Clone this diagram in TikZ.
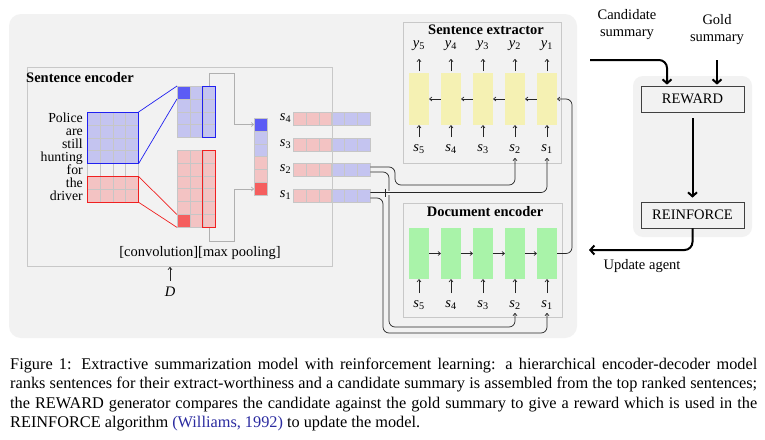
\documentclass[tikz,border=0pt]{standalone}
\usepackage{fontspec}
\setmainfont{Liberation Serif}
\usetikzlibrary{arrows.meta}
\definecolor{bgc}{HTML}{F2F2F2}
\definecolor{gridc}{HTML}{C6C6C6}
\definecolor{lblue}{HTML}{C4C4F0}
\definecolor{dblue}{HTML}{5C5CF5}
\definecolor{oblue}{HTML}{2020F0}
\definecolor{lred}{HTML}{F3C3C3}
\definecolor{dred}{HTML}{F55E5E}
\definecolor{ored}{HTML}{F02020}
\definecolor{yel}{HTML}{F5F1B3}
\definecolor{grn}{HTML}{A9F3A9}
\definecolor{citec}{HTML}{2B2BA0}
\definecolor{boxc}{HTML}{C8C8C8}
\definecolor{linec}{HTML}{262626}
\definecolor{arrgray}{HTML}{B0B0B0}
\newcommand{\lbl}[2]{\textit{#1}\textsubscript{#2}}
\newcommand{\capline}[1]{\makebox[747pt][s]{#1}}
\begin{document}
\begin{tikzpicture}[x=1pt,y=-1pt,
  font=\fontsize{14.5}{16}\selectfont,
  cell/.style={draw=gridc, line width=0.6pt},
  conn/.style={draw=linec, line width=0.9pt, rounded corners=6pt},
  ar/.style={-{To[length=3pt,width=4.5pt]}, draw=linec, line width=0.7pt},
  garr/.style={-{To[length=3pt,width=4.5pt]}, draw=arrgray, line width=0.7pt},
  thk/.style={draw=black, line width=2pt, -{Straight Barb[length=4pt,width=9pt]}, rounded corners=8pt},
  ybox/.style={fill=yel, draw=none, minimum width=20pt, minimum height=52pt, inner sep=0pt},
  gbox/.style={fill=grn, draw=none, minimum width=20pt, minimum height=51pt, inner sep=0pt},
  encbox/.style={draw=boxc, line width=0.8pt, fill=bgc},
  rbox/.style={draw=black!75, line width=0.7pt, fill=bgc, minimum width=103pt, minimum height=26pt, inner sep=0pt},
  title/.style={font=\fontsize{14.5}{16}\selectfont\bfseries},
  lab/.style={inner sep=0pt}
]
\useasboundingbox (0,0) rectangle (765,439);
\fill[white] (0,0) rectangle (765,439);
% main background
\fill[bgc, rounded corners=12pt] (9,14) rectangle (577,338);
% ===== Sentence encoder =====
\draw[encbox] (27,67) rectangle (332,266);
\node[title, anchor=west, inner sep=0pt] (setitle) at (26,78) {Sentence encoder};
% words
\foreach \w [count=\k from 0] in {Police,are,still,hunting,for,the,driver}{
  \node[anchor=base east, inner sep=0pt, font=\fontsize{13.8}{14}\selectfont] (w\k) at (83,{112+12.9*(\k+0.5)+4.5}) {\w};
}
% input matrix
\foreach \i in {0,...,3}{
  \foreach \j in {0,...,3}{\filldraw[cell, fill=lblue] ({87+12.9*\i},{112+12.9*\j}) rectangle +(12.9,12.9);}
  \draw[cell] ({87+12.9*\i},{112+12.9*4}) rectangle +(12.9,12.9);
  \foreach \j in {5,6}{\filldraw[cell, fill=lred] ({87+12.9*\i},{112+12.9*\j}) rectangle +(12.9,12.9);}
}
\draw[oblue, line width=0.9pt] (87,112) rectangle (138.6,163.6);
\draw[ored, line width=0.9pt] (87,176.5) rectangle (138.6,202.3);
% pooling connectors (gray)
\coordinate (pb) at (254,124.5);
\coordinate (pr) at (254,189);
\draw[garr] (209.25,86) -- (209.25,73) -- (234,73) -- (234,124.5) -- (pb);
\draw[garr] (209.25,227.4) -- (209.25,241) -- (234,241) -- (234,189) -- (pr);
% blue feature map
\foreach \i in {0,1,2}{\foreach \j in {0,...,3}{\filldraw[cell, fill=lblue] ({177+12.9*\i},{86+12.9*\j}) rectangle +(12.9,12.9);}}
\filldraw[cell, fill=dblue] (177,86) rectangle +(12.9,12.9);
\draw[oblue, line width=0.9pt] (202.8,86) rectangle (215.7,137.6);
% red feature map
\foreach \i in {0,1,2}{\foreach \j in {0,...,5}{\filldraw[cell, fill=lred] ({177+12.9*\i},{150+12.9*\j}) rectangle +(12.9,12.9);}}
\filldraw[cell, fill=dred] (177,214.5) rectangle +(12.9,12.9);
\draw[ored, line width=0.9pt] (202.8,150) rectangle (215.7,227.4);
% filter lines
\draw[oblue, line width=0.7pt] (138.6,112) -- (177,86);
\draw[oblue, line width=0.7pt] (138.6,163.6) -- (177,98.9);
\draw[ored, line width=0.7pt] (138.6,176.5) -- (177,214.5);
\draw[ored, line width=0.7pt] (138.6,202.3) -- (177,227.4);
% pooled vector
\foreach \c [count=\k from 0] in {dblue,lblue,lblue,lred,lred,dred}{
  \filldraw[cell, fill=\c] (254,{118+12.9*\k}) rectangle +(12.9,12.9);
}
% sentence vectors
\foreach \r/\yy in {4/112,3/138,2/163.5,1/189}{
  \foreach \i in {0,1,2}{\filldraw[cell, fill=lred] ({293+12.9*\i},\yy) rectangle +(12.9,12.9);}
  \foreach \i in {3,4,5}{\filldraw[cell, fill=lblue] ({293+12.9*\i},\yy) rectangle +(12.9,12.9);}
  \node[lab] (sv\r) at (285.5,{\yy+6}) {\lbl{s}{\r}};
}
\draw[boxc, line width=0.8pt] (332,67) -- (332,266);
\node[lab] (convlab) at (200,253) {[convolution][max pooling]};
\node[lab] (D) at (170,292) {\textit{D}};
\draw[ar] (170,281) -- (170,267);
% ===== Sentence extractor =====
\draw[encbox] (403,22) rectangle (561,163);
\node[title, inner sep=0pt] (extitle) at (486,30) {Sentence extractor};
\foreach \n/\k in {5/0,4/1,3/2,2/3,1/4}{
  \node[ybox] (e\n) at ({419+32*\k},99) {};
  \node[lab] (ey\n) at ({419+32*\k},46) {\lbl{y}{\n}};
  \node[lab] (es\n) at ({419+32*\k},149.5) {\lbl{s}{\n}};
  \draw[ar] ({419+32*\k},71) -- ({419+32*\k},59);
  \draw[ar] ({419+32*\k},137) -- (e\n.south);
}
\foreach \a/\b in {1/2,2/3,3/4,4/5}{\draw[ar] (e\a.west) -- (e\b.east);}
% ===== Document encoder =====
\draw[encbox] (403,203) rectangle (562,317);
\node[title, inner sep=0pt] (dotitle) at (485,212) {Document encoder};
\foreach \n/\k in {5/0,4/1,3/2,2/3,1/4}{
  \node[gbox] (d\n) at ({419+32*\k},253.5) {};
  \node[lab] (ds\n) at ({419+32*\k},305) {\lbl{s}{\n}};
  \draw[ar] ({419+32*\k},293) -- (d\n.south);
}
\foreach \a/\b in {5/4,4/3,3/2,2/1}{\draw[ar] (d\a.east) -- (d\b.west);}
% ===== connectors =====
\coordinate (es2in) at (515,158);
\coordinate (es1in) at (547,158);
\coordinate (ds2in) at (515,313);
\coordinate (ds1in) at (547,313);
\draw[conn, ar, rounded corners=6pt] (370.4,172) -- (389,172) -- (389,327) -- (515,327) -- (ds2in);
\draw[conn, ar, rounded corners=6pt] (370.4,198) -- (383,198) -- (383,333) -- (547,333) -- (ds1in);
\draw[conn, ar, rounded corners=6pt] (370.4,167) -- (395,167) -- (395,185) -- (515,185) -- (es2in);
\draw[bgc, line width=4pt] (378,192.5) -- (395,192.5);
\draw[linec, line width=0.8pt] (385,188.5) -- (385,196.5);
\draw[conn, ar, rounded corners=6pt] (370.4,192.5) -- (547,192.5) -- (es1in);
\draw[conn, ar, rounded corners=6pt] (d1.east) -- (572,253.5) -- (572,99) -- (e1.east);
% ===== right panel =====
\fill[bgc, rounded corners=10pt] (633,76) rectangle (752,237);
\node[align=center, lab, font=\fontsize{14.5}{17}\selectfont] (cand) at (627,24.5) {Candidate\\summary};
\node[align=center, lab, font=\fontsize{14.5}{17}\selectfont] (gold) at (717,30) {Gold\\summary};
\node[rbox] (rew) at (692.5,99) {REWARD};
\node[rbox] (rein) at (692.5,215) {REINFORCE};
\coordinate (candstart) at (590,60);
\draw[thk] (candstart) -- (667,60) -- ([yshift=1pt]rew.north -| 667,0);
\draw[thk] (717,60) -- ([yshift=1pt]rew.north -| 717,0);
\draw[thk, shorten <=6pt, shorten >=4pt] (rew.south) -- (rein.north);
\coordinate (upd) at (589,250);
\draw[thk] (rein.south) -- (692.5,250) -- (upd);
\node[lab] (updlab) at (642,266) {Update agent};
% ===== caption =====
\begin{scope}[every node/.style={anchor=base west, inner sep=0pt, font=\fontsize{16.3}{19.5}\selectfont}]
\node (c1) at (10,369) {\capline{Figure 1: Extractive summarization model with reinforcement learning: a hierarchical encoder-decoder model}};
\node (c2) at (10,388.5) {\capline{ranks sentences for their extract-worthiness and a candidate summary is assembled from the top ranked sentences;}};
\node (c3) at (10,408) {\capline{the REWARD generator compares the candidate against the gold summary to give a reward which is used in the}};
\node (c4) at (10,427.5) {REINFORCE algorithm {\color{citec}(Williams, 1992)} to update the model.};
\end{scope}
\end{tikzpicture}
\end{document}
